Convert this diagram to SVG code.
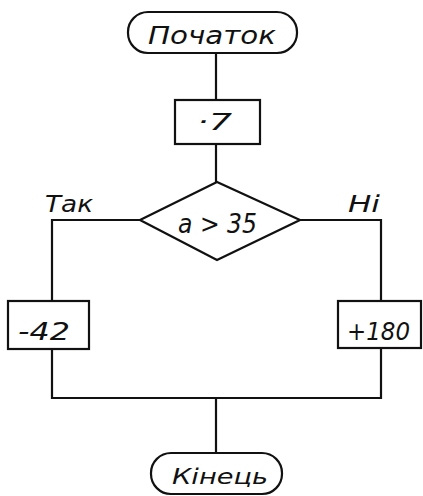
<svg xmlns="http://www.w3.org/2000/svg" width="423" height="496" viewBox="0 0 423 496">
<style>
.s{fill:none;stroke:#111;stroke-width:2.2;stroke-linejoin:miter}
.t{font-family:"DejaVu Sans","Liberation Sans",sans-serif;font-style:oblique;fill:#111}
</style>
<rect width="423" height="496" fill="#fff"/>
<g id="connectors" class="s">
<line x1="216" y1="53" x2="216" y2="100"/>
<line x1="216" y1="144" x2="216" y2="182"/>
<polyline points="140,220 52,220 52,301"/>
<polyline points="300,220 381,220 381,301"/>
<polyline points="52,349 52,398 381,398 381,349"/>
<line x1="216" y1="398" x2="216" y2="453"/>
</g>
<g id="start">
<rect class="s" x="128" y="12" width="169" height="41" rx="20" ry="20"/>
<text class="t" x="148" y="44" font-size="25" textLength="128" lengthAdjust="spacingAndGlyphs">Початок</text>
</g>
<g id="step7">
<rect class="s" x="175" y="100" width="85" height="44"/>
<text class="t" x="197" y="130" font-size="23" textLength="35" lengthAdjust="spacingAndGlyphs">·7</text>
</g>
<g id="decision">
<polygon class="s" points="140,220 217,182 300,220 217,260"/>
<text class="t" x="178" y="233" font-size="26" textLength="79" lengthAdjust="spacingAndGlyphs">a &gt; 35</text>
</g>
<g id="label-yes">
<text class="t" x="45" y="212" font-size="23" textLength="48" lengthAdjust="spacingAndGlyphs">Так</text>
</g>
<g id="label-no">
<text class="t" x="348" y="212" font-size="23" textLength="32" lengthAdjust="spacingAndGlyphs">Ні</text>
</g>
<g id="minus42">
<rect class="s" x="8" y="301" width="81" height="48"/>
<text class="t" x="18" y="340" font-size="25" textLength="52" lengthAdjust="spacingAndGlyphs">-42</text>
</g>
<g id="plus180">
<rect class="s" x="338" y="301" width="83" height="47"/>
<text class="t" x="347" y="340" font-size="25" textLength="63" lengthAdjust="spacingAndGlyphs">+180</text>
</g>
<g id="end">
<rect class="s" x="151" y="453" width="131" height="41" rx="20" ry="20"/>
<text class="t" x="172" y="484" font-size="22" textLength="96" lengthAdjust="spacingAndGlyphs">Кінець</text>
</g>
</svg>
